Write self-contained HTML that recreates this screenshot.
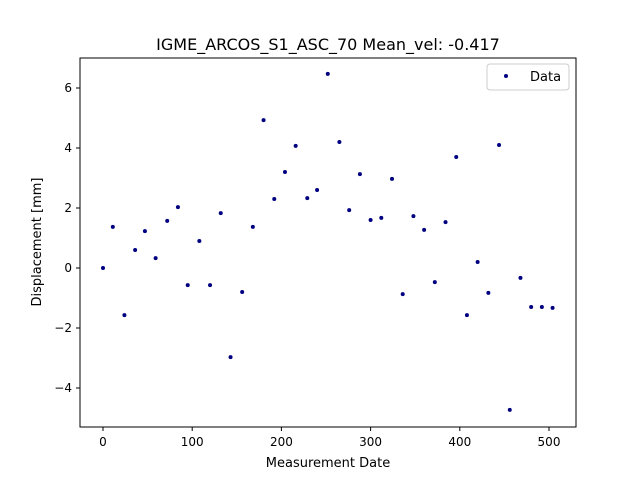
<!DOCTYPE html>
<html><head><meta charset="utf-8"><style>
body{margin:0;background:#fff;font-family:"Liberation Sans","DejaVu Sans",sans-serif}
</style></head><body>
<svg id="chart" width="640" height="480" xmlns="http://www.w3.org/2000/svg" font-family="DejaVu Sans, Liberation Sans, sans-serif">
<rect width="640" height="480" fill="#fff"/>
<text x="328" y="50" font-size="16" text-anchor="middle">IGME_ARCOS_S1_ASC_70 Mean_vel: -0.417</text>
<g id="ticks"></g>
<g id="marks"></g>
<rect x="80" y="58" width="496" height="369" fill="none" stroke="#000" stroke-width="1"/>
<text x="328" y="467" font-size="13" text-anchor="middle">Measurement Date</text>
<text x="41" y="242" font-size="13" text-anchor="middle" transform="rotate(-90 41 242)">Displacement [mm]</text>
<g>
<rect x="487" y="64" width="82" height="26" rx="3" fill="#fff" stroke="#ccc"/>
<circle cx="506" cy="76" r="2" fill="#000080"/>
<text x="530" y="81" font-size="13">Data</text>
</g>
</svg>
<script>
const xValues=[0,11,24,36,47,59,72,84,95,108,120,132,143,156,168,180,192,204,216,229,240,252,265,276,288,300,312,324,336,348,360,372,384,396,408,420,432,444,456,468,480,492,504];
const yValues=[0,1.37,-1.57,0.6,1.23,0.33,1.57,2.03,-0.57,0.9,-0.57,1.83,-2.97,-0.8,1.37,4.93,2.3,3.2,4.07,2.33,2.6,6.47,4.2,1.93,3.13,1.6,1.67,2.97,-0.87,1.73,1.27,-0.47,1.53,3.7,-1.57,0.2,-0.83,4.1,-4.73,-0.33,-1.3,-1.3,-1.33];
const xTicks=[0,100,200,300,400,500];
const yTicks=[-4,-2,0,2,4,6];
const NS="http://www.w3.org/2000/svg";
function sx(v){return 103+v*0.892;}
function sy(v){return 268-v*30;}
const marks=document.getElementById('marks'),ticks=document.getElementById('ticks');
xValues.forEach((x,i)=>{
 const c=document.createElementNS(NS,'circle');
 c.setAttribute('cx',sx(x));c.setAttribute('cy',sy(yValues[i]));c.setAttribute('r',2);c.setAttribute('fill','#000080');
 
 
 marks.appendChild(c);
});
xTicks.forEach(t=>{
 const l=document.createElementNS(NS,'line');
 l.setAttribute('x1',sx(t));l.setAttribute('x2',sx(t));l.setAttribute('y1',427);l.setAttribute('y2',431);l.setAttribute('stroke','#000');
 
 
 ticks.appendChild(l);
 const s=document.createElementNS(NS,'text');
 s.setAttribute('x',sx(t));s.setAttribute('y',446);s.setAttribute('font-size','12');s.setAttribute('text-anchor','middle');s.textContent=t;
 
 
 ticks.appendChild(s);
});
yTicks.forEach(t=>{
 const l=document.createElementNS(NS,'line');
 l.setAttribute('x1',76);l.setAttribute('x2',80);l.setAttribute('y1',sy(t));l.setAttribute('y2',sy(t));l.setAttribute('stroke','#000');
 
 
 ticks.appendChild(l);
 const s=document.createElementNS(NS,'text');
 s.setAttribute('x',72);s.setAttribute('y',sy(t)+4);s.setAttribute('font-size','12');s.setAttribute('text-anchor','end');s.textContent=t<0?'\u2212'+(-t):t;
 
 
 ticks.appendChild(s);
});
</script>
</body></html>
